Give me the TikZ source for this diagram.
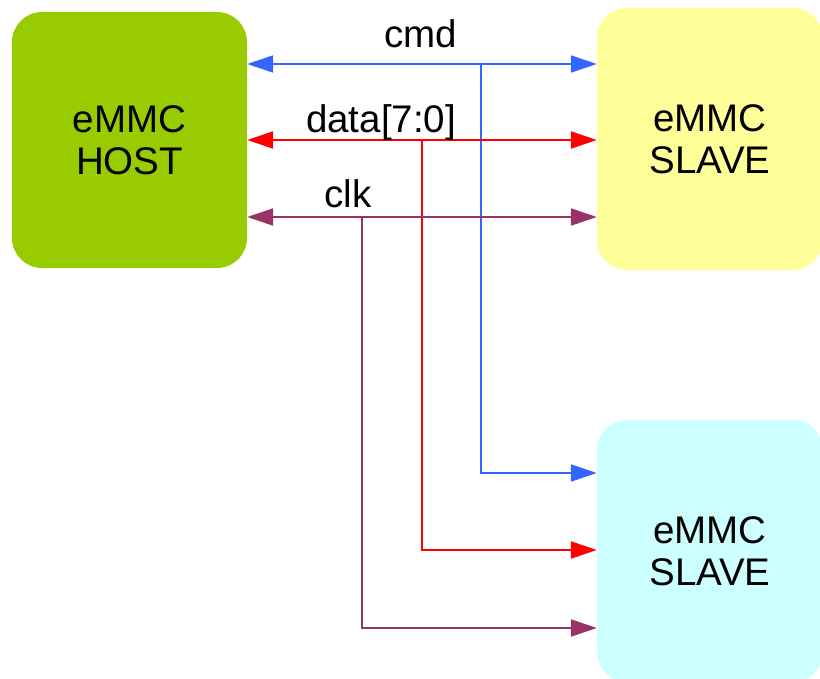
\documentclass[tikz,border=0pt]{standalone}
\usepackage{fontspec}
\setmainfont{Liberation Sans}
\usetikzlibrary{arrows.meta}
\definecolor{hostgreen}{HTML}{99CC00}
\definecolor{slaveyellow}{HTML}{FFFF99}
\definecolor{slavecyan}{HTML}{CCFFFF}
\definecolor{cmdblue}{HTML}{3366FF}
\definecolor{datared}{HTML}{FF0000}
\definecolor{clkpurple}{HTML}{993366}
\begin{document}
\begin{tikzpicture}[x=1pt,y=-1pt,
  blockbox/.style={rectangle, rounded corners=30pt, draw=none, inner sep=0pt,
    align=center, font=\fontsize{38.5}{42}\selectfont},
  sig/.style={line width=2pt, arrows={-Triangle[length=26pt,width=17pt]}},
  sigboth/.style={line width=2pt, arrows={Triangle[length=26pt,width=17pt]-Triangle[length=26pt,width=17pt]}},
  lbl/.style={font=\fontsize{38.5}{42}\selectfont, inner sep=0pt, anchor=base}
]
\useasboundingbox (0,0) rectangle (820,679);
\node[blockbox, fill=hostgreen, minimum width=235pt, minimum height=256pt] (host) at (129.5,140) {eMMC\\HOST};
\node[blockbox, fill=slaveyellow, minimum width=226pt, minimum height=262pt] (s1) at (710,139) {eMMC\\SLAVE};
\node[blockbox, fill=slavecyan, minimum width=226pt, minimum height=262pt] (s2) at (710,551) {eMMC\\SLAVE};

\coordinate (cmdb) at (481,64);
\coordinate (datab) at (422,140);
\coordinate (clkb) at (362,217);
\coordinate (cmdc) at (481,473);
\coordinate (datac) at (422,550);
\coordinate (clkc) at (362,628);

\draw[sigboth, cmdblue] (host.east |- cmdb) -- (s1.west |- cmdb);
\draw[sig, cmdblue] (cmdb) -- (cmdc) -- (s2.west |- cmdc);
\draw[sigboth, datared] (host.east |- datab) -- (s1.west |- datab);
\draw[sig, datared] (datab) -- (datac) -- (s2.west |- datac);
\draw[sigboth, clkpurple] (host.east |- clkb) -- (s1.west |- clkb);
\draw[sig, clkpurple] (clkb) -- (clkc) -- (s2.west |- clkc);

\node[lbl] (cmdl) at (421,47.5) {cmd};
\node[lbl] (datal) at (381,132.5) {data[7:0]};
\node[lbl] (clkl) at (348,208) {clk};
\end{tikzpicture}
\end{document}
